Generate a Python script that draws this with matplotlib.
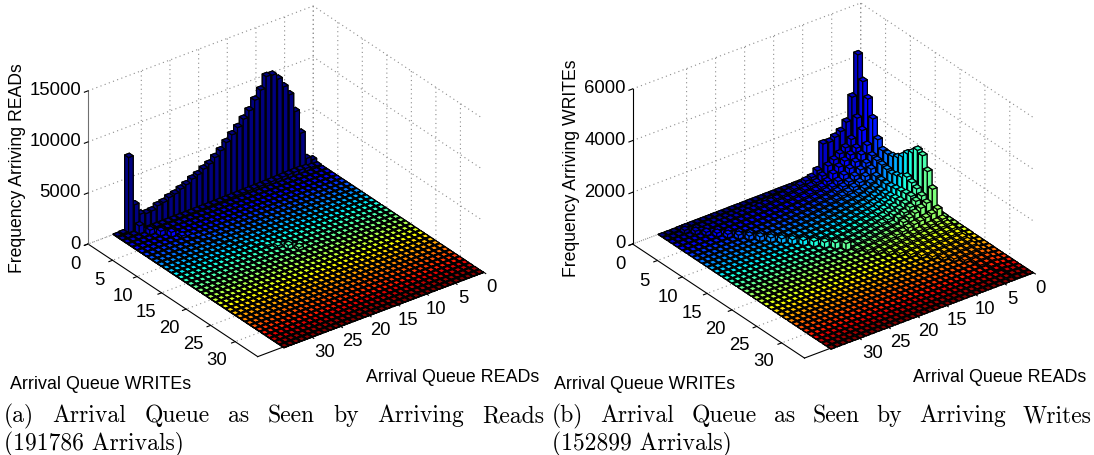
#!/usr/bin/env python3
import matplotlib
matplotlib.use("Agg")
import matplotlib.pyplot as plt
import numpy as np
from mpl_toolkits.mplot3d import proj3d

FW, FH = 1094, 456
N_BINS = 35
READS_MAX, WRITES_MAX = 39.3, 34.6

ticks = [0, 5, 10, 15, 20, 25, 30]

# figure (a): bins with writes = 0 and writes = 1, then the w + r = 32 diagonal
reads_row0 = [360, 700, 3400, 5730, 7580, 8570, 9540, 10140, 10220, 9100, 8330, 7500, 6890, 6280, 5780,
              5240, 4640, 4190, 3750, 3480, 3130, 2920, 2580, 2360, 2090, 1960, 1690, 1580, 1290, 1240,
              1400, 2520, 7370, 100, 50]
reads_row1 = [80, 150, 250, 300, 300, 280, 260, 240, 220, 200, 190, 180, 170, 160, 150, 140, 130, 120, 110,
              100, 100, 90, 90, 80, 80, 70, 70, 60, 60, 50, 50, 50, 40, 30, 20]
reads_diag = [780, 450, 450, 450, 200, 120, 100, 100, 100, 100, 100, 120, 150, 200, 350, 250]
reads_floor = 30
reads_zticks = [0, 5000, 10000, 15000]

# figure (b): one list per writes bin, the remaining reads bins are empty
writes_rows = [
    [20, 30, 60, 60, 60, 60, 60, 60, 50, 50, 45, 45, 40, 40, 40, 35, 35, 30, 30, 30, 25, 25, 25, 20, 20, 20, 15, 15, 15, 15, 15, 10],
    [40, 60, 90, 90, 90, 90, 90, 90, 80, 80, 70, 70, 60, 60, 60, 50, 50, 45, 45, 40, 40, 35, 35, 30, 30, 30, 25, 25, 20, 20, 20, 15],
    [100, 300, 4595, 3040, 2155, 1875, 1740, 1630, 1650, 700, 520, 470, 380, 320, 270, 230, 200, 170, 150, 130, 110, 100, 90, 80, 70, 60, 60, 50, 50, 50, 50],
    [90, 260, 3685, 2355, 1615, 1375, 1225, 1075, 925, 620, 450, 380, 330, 280, 240, 200, 170, 150, 130, 110, 100, 90, 80, 70, 60, 50, 50, 40, 40, 30],
    [90, 240, 3140, 2005, 1405, 1225, 1075, 925, 745, 530, 400, 340, 300, 250, 210, 180, 160, 140, 110, 100, 90, 80, 70, 60, 50, 40, 40, 30, 30],
    [80, 220, 2495, 1555, 1275, 1075, 905, 745, 585, 450, 350, 300, 260, 220, 190, 170, 150, 120, 100, 90, 80, 70, 60, 50, 40, 40, 30, 30],
    [80, 210, 1820, 1275, 1075, 905, 745, 605, 500, 400, 320, 280, 240, 200, 180, 160, 130, 110, 90, 80, 70, 60, 50, 40, 40, 30, 30],
    [70, 200, 1518, 1225, 975, 775, 625, 525, 430, 360, 300, 250, 220, 190, 170, 140, 120, 100, 80, 70, 60, 50, 40, 40, 30, 30],
    [70, 200, 1510, 1175, 820, 640, 520, 430, 360, 310, 270, 230, 210, 180, 150, 130, 110, 90, 80, 70, 60, 50, 40, 30, 30],
    [70, 190, 1545, 1130, 790, 610, 500, 410, 350, 300, 260, 220, 200, 170, 140, 120, 100, 90, 70, 60, 50, 40, 40, 30],
    [70, 190, 1635, 1080, 780, 600, 490, 400, 340, 290, 250, 220, 190, 160, 130, 110, 100, 80, 70, 60, 50, 40, 30],
    [60, 180, 1795, 1140, 800, 610, 500, 410, 340, 290, 250, 210, 180, 160, 130, 110, 90, 80, 60, 50, 40, 30],
    [60, 180, 2035, 1210, 840, 640, 520, 430, 350, 300, 250, 210, 170, 150, 120, 100, 90, 70, 60, 50, 40],
    [60, 170, 2200, 1350, 880, 680, 550, 440, 360, 300, 250, 210, 170, 150, 120, 100, 80, 70, 50, 40],
    [60, 170, 2430, 1250, 920, 720, 570, 460, 370, 310, 250, 210, 170, 140, 110, 90, 80, 60, 50],
    [50, 160, 2345, 1150, 940, 740, 600, 480, 380, 320, 250, 200, 170, 130, 110, 90, 70, 60],
    [50, 150, 1865, 1000, 880, 730, 600, 480, 320, 280, 250, 200, 170, 130, 100, 80, 60],
    [50, 140, 1305, 850, 740, 630, 530, 440, 300, 260, 230, 190, 150, 110, 90, 70],
    [40, 120, 655, 560, 500, 450, 410, 360, 290, 250, 200, 160, 120, 100, 80],
    [40, 100, 400, 370, 340, 310, 280, 250, 220, 190, 160, 130, 100, 80],
    [30, 90, 330, 300, 280, 260, 240, 210, 190, 160, 130, 110, 90],
    [30, 80, 280, 260, 240, 220, 200, 180, 160, 130, 110, 90],
    [30, 70, 240, 220, 200, 190, 170, 150, 130, 110, 90],
    [20, 60, 200, 190, 170, 160, 140, 130, 110, 90],
    [20, 50, 170, 160, 150, 130, 120, 110, 90],
    [20, 50, 150, 140, 130, 110, 100, 90],
    [20, 40, 130, 120, 110, 100, 90],
    [10, 40, 110, 100, 90, 80],
    [10, 30, 90, 80, 70],
    [10, 30, 80, 70, 60],
    [10, 20, 70, 60],
    [10, 20, 60, 50],
    [10, 20, 50],
    [10, 10, 40],
    [10, 10, 30],
]
writes_diag = [120, 130, 130, 140, 140, 150, 160, 170, 170, 180, 190, 200, 210, 220, 240, 260]
writes_zticks = [0, 2000, 4000, 6000]

captions_a = ["(a) Arrival Queue as Seen by Arriving Reads", "(191786 Arrivals)"]
captions_b = ["(b) Arrival Queue as Seen by Arriving Writes", "(152899 Arrivals)"]

plt.rcParams["font.family"] = ["Liberation Sans"]
plt.rcParams["grid.color"] = "#8c8c8c"
plt.rcParams["grid.linestyle"] = (0, (1, 3))
plt.rcParams["grid.linewidth"] = 0.8


def grid_a():
    z = np.full((N_BINS, N_BINS), float(reads_floor))
    z[0] = reads_row0
    z[1] = reads_row1
    for i, v in enumerate(reads_diag):
        z[i + 1, 31 - i] = v
    return z


def grid_b():
    z = np.zeros((N_BINS, N_BINS))
    for w, row in enumerate(writes_rows):
        z[w, :len(row)] = row
    for i, v in enumerate(writes_diag):
        z[i + 1, 31 - i] = v
    return z


def project(ax, x, y, z):
    vx, vy, _ = proj3d.proj_transform(x, y, z, ax.get_proj())
    return ax.transData.transform((vx, vy))


def place_axes(ax, left, right):
    # left = pixel of the reads-max corner, right = pixel of the writes-max corner (y from the top)
    size = 400.0
    ax.set_position([0, 0, size / FW, size / FH])
    ax.apply_aspect()
    a = project(ax, READS_MAX, 0, 0)
    b = project(ax, 0, WRITES_MAX, 0)
    size *= (right[0] - left[0]) / (b[0] - a[0])
    ax.set_position([0, 0, size / FW, size / FH])
    ax.apply_aspect()
    a = project(ax, READS_MAX, 0, 0)
    dx = left[0] - a[0]
    dy = FH - left[1] - a[1]
    ax.set_position([dx / FW, dy / FH, size / FW, size / FH])
    ax.apply_aspect()


def draw_bars(ax, z):
    cmap = plt.get_cmap("jet")
    # back to front along w + r, the bars of one diagonal do not hide each other
    for total in range(2 * N_BINS - 1):
        cells = [(w, total - w) for w in range(N_BINS) if 0 <= total - w < N_BINS]
        w = np.array([c[0] for c in cells])
        r = np.array([c[1] for c in cells])
        ax.bar3d(r + 0.1, w, 0, 0.8, 0.8, z[w, r], color=cmap(w / (N_BINS - 1)),
                 shade=False, edgecolor="black", linewidth=0.85, zorder=total + 10)


def px_text(x, y, s, **kw):
    return fig.text(x / FW, 1 - y / FH, s, **kw)


def justified(x0, x1, y, s):
    words = s.split()
    rend = fig.canvas.get_renderer()
    items = [px_text(0, y, w, family="cmr10", fontsize=17, va="center") for w in words]
    widths = [t.get_window_extent(rend).width for t in items]
    gap = (x1 - x0 - sum(widths)) / (len(words) - 1)
    x = x0
    for t, w in zip(items, widths):
        t.set_x(x / FW)
        x += w + gap


def panel(z, zmax, zticks, left, right, zlabel, zlabel_x, wlabel_x, rlabel_x, captions, cap_x0, cap_x1, zline):
    ax = fig.add_subplot(projection="3d", proj_type="ortho", computed_zorder=False)
    ax.set_box_aspect((1, 1, 0.627))
    ax.view_init(elev=30, azim=53)
    ax.set_xlim(0, READS_MAX)
    ax.set_ylim(0, WRITES_MAX)
    ax.set_zlim(0, zmax)
    ax.set_xticks(ticks)
    ax.set_yticks(ticks)
    ax.set_zticks(zticks)
    ax.set_xticklabels([])
    ax.set_yticklabels([])
    ax.set_zticklabels([])
    ax.patch.set_alpha(0)
    for axis in (ax.xaxis, ax.yaxis, ax.zaxis):
        axis.pane.set_visible(False)
        axis.line.set_color("black")
        axis.line.set_linewidth(0.8)
        axis._axinfo["tick"]["inward_factor"] = 0.2
        axis._axinfo["tick"]["outward_factor"] = 0
    ax.zaxis.line.set_color(zline)
    draw_bars(ax, z)
    place_axes(ax, left, right)

    # tick labels from the projected tick positions
    for t in ticks:
        p = project(ax, READS_MAX, t, 0)
        px_text(p[0] - 12.5 - 0.2 * t, FH - p[1] + 20 - t / 15, str(t), fontsize=13.3, ha="center", va="center")
        p = project(ax, t, WRITES_MAX, 0)
        px_text(p[0] + 8 + 0.2 * t, FH - p[1] + 15, str(t), fontsize=13.3, ha="center", va="center")
    for t in zticks:
        p = project(ax, READS_MAX, 0, t)
        px_text(p[0] - 7, FH - p[1] - 1, str(t), fontsize=13.3, ha="right", va="center")

    px_text(zlabel_x, 168, zlabel, fontsize=12.7, rotation=90, ha="center", va="center")
    px_text(wlabel_x, 385, "Arrival Queue WRITEs", fontsize=12.9, ha="left", va="center")
    px_text(rlabel_x, 378, "Arrival Queue READs", fontsize=12.9, ha="left", va="center")
    justified(cap_x0, cap_x1, 416, captions[0])
    px_text(cap_x0, 444, captions[1], family="cmr10", fontsize=17, va="center")


fig = plt.figure(figsize=(FW / 100, FH / 100), dpi=100)
panel(grid_a(), 15000, reads_zticks, (88, 245), (483, 272), "Frequency Arriving READs", 18, 10, 366,
      captions_a, 4, 544, "#707070")
panel(grid_b(), 6000, writes_zticks, (632.6, 245), (1032.6, 272), "Frequency Arriving WRITEs", 571, 553.5, 913,
      captions_b, 552, 1092, "black")
fig.savefig("out.png", dpi=100)
